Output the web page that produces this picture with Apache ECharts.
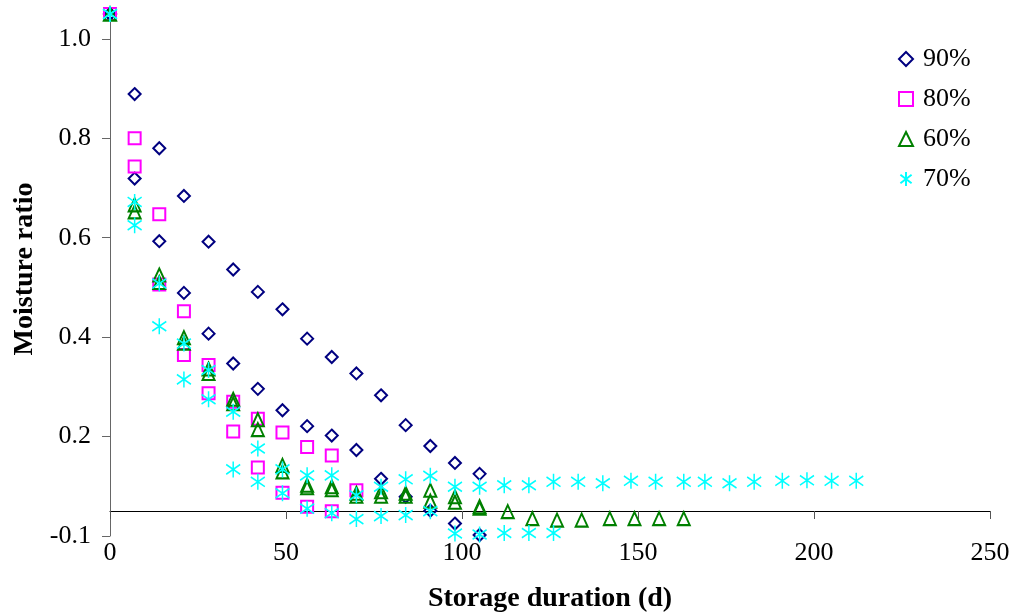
<!DOCTYPE html>
<html>
<head>
<meta charset="utf-8">
<script src="https://cdn.jsdelivr.net/npm/echarts@6/dist/echarts.min.js"></script>
<style>
  html, body { margin: 0; padding: 0; background: #fff; }
  #chart { width: 1016px; height: 616px; }
</style>
</head>
<body>
<div id="chart"></div>
<script>
// Moisture ratio during storage at four relative humidities (two replicates each)
const days90 = [0, 7, 14, 21, 28, 35, 42, 49, 56, 63, 70, 77, 84, 91, 98, 105];
const mr90a  = [1.05, 0.889, 0.780, 0.684, 0.592, 0.536, 0.491, 0.456, 0.397, 0.360, 0.327, 0.283, 0.223, 0.181, 0.147, 0.125];
const mr90b  = [1.05, 0.719, 0.593, 0.489, 0.407, 0.347, 0.296, 0.253, 0.221, 0.202, 0.173, 0.115, 0.079, 0.051, 0.025, 0.002];

const days80 = [0, 7, 14, 21, 28, 35, 42, 49, 56, 63, 70];
const mr80a  = [1.05, 0.800, 0.647, 0.452, 0.344, 0.270, 0.236, 0.208, 0.179, 0.162, 0.092];
const mr80b  = [1.05, 0.743, 0.506, 0.364, 0.287, 0.210, 0.138, 0.087, 0.059, 0.050, null];

const days60 = [0, 7, 14, 21, 28, 35, 42, 49, 56, 63, 70, 77, 84, 91, 98, 105];
const mr60a  = [1.05, 0.666, 0.525, 0.399, 0.336, 0.275, 0.234, 0.142, 0.102, 0.099, 0.086, 0.089, 0.086, 0.092, 0.079, 0.059];
const mr60b  = [1.05, 0.652, 0.510, 0.388, 0.327, 0.266, 0.214, 0.129, 0.097, 0.093, 0.080, 0.080, 0.080, 0.070, 0.068, 0.056];
const days60tail = [113, 120, 127, 134, 142, 149, 156, 163];
const mr60tail   = [0.049, 0.035, 0.032, 0.032, 0.035, 0.035, 0.035, 0.035];

const days70 = [0, 7, 14, 21, 28, 35, 42, 49, 56, 63, 70, 77, 84, 91, 98, 105, 112, 119, 126];
const mr70a  = [1.05, 0.672, 0.508, 0.387, 0.334, 0.250, 0.176, 0.134, 0.122, 0.122, 0.082, 0.099, 0.114, 0.121, 0.099, 0.099, 0.102, 0.102, 0.109];
const mr70b  = [1.05, 0.625, 0.422, 0.315, 0.275, 0.134, 0.109, 0.086, 0.055, 0.046, 0.034, 0.040, 0.042, 0.050, 0.005, 0.003, 0.006, 0.006, 0.006];
const days70tail = [133, 140, 148, 155, 163, 169, 176, 183, 191, 198, 205, 212];
const mr70tail   = [0.109, 0.106, 0.111, 0.109, 0.109, 0.109, 0.106, 0.109, 0.111, 0.112, 0.111, 0.111];

const seriesNames = ['90%', '80%', '60%', '70%'];
const yTickValues = [0, 0.2, 0.4, 0.6, 0.8, 1.0];
const xTickLabels = [0, 50, 100, 150, 200, 250];

function pairs(days, vals) {
  return days.map((d, i) => [d, vals[i]]).filter(p => p[1] !== null && p[1] !== undefined);
}

const FONT = "'Liberation Serif', 'Times New Roman', serif";
const STAR = 'path://M6,0L6,15M0,3L12,12M0,12L12,3';

function marker(name, data, symbol, size, color, width) {
  return {
    name: name,
    type: 'scatter',
    data: data,
    symbol: symbol,
    symbolSize: size,
    clip: false,
    itemStyle: { color: 'rgba(0,0,0,0)', borderColor: color, borderWidth: width, opacity: 1 },
    emphasis: { disabled: true }
  };
}

const chart = echarts.init(document.getElementById('chart'), null, { renderer: 'canvas' });
chart.setOption({
  animation: false,
  backgroundColor: '#ffffff',
  grid: { left: 110, right: 26, top: 14, bottom: 80, containLabel: false, outerBoundsMode: 'none' },
  legend: {
    orient: 'vertical',
    left: 893,
    top: 41,
    itemWidth: 14,
    itemHeight: 14,
    itemGap: 14,
    data: seriesNames,
    textStyle: { fontFamily: FONT, fontSize: 26, color: '#000', lineHeight: 26, padding: [0, 0, 0, 5] }
  },
  xAxis: {
    type: 'value',
    min: 0,
    max: 250,
    interval: 50,
    position: 'bottom',
    offset: -25,
    axisLine: { show: true, onZero: false, lineStyle: { color: '#000', width: 1 } },
    axisTick: { show: true, length: 8, lineStyle: { color: '#555' } },
    axisLabel: {
      margin: 29, fontFamily: FONT, fontSize: 26, color: '#000',
      customValues: xTickLabels
    },
    splitLine: { show: false },
    name: 'Storage duration (d)',
    nameLocation: 'middle',
    nameGap: 74,
    nameTextStyle: { fontFamily: FONT, fontSize: 28, fontWeight: 'bold', color: '#000' }
  },
  yAxis: {
    type: 'value',
    min: 0,
    max: 1.05,
    interval: 0.2,
    axisLine: { show: true, onZero: false, lineStyle: { color: '#666', width: 1 } },
    axisTick: { show: true, length: 8, customValues: yTickValues, lineStyle: { color: '#666' } },
    axisLabel: {
      margin: 19, fontFamily: FONT, fontSize: 26, color: '#000',
      customValues: yTickValues,
      formatter: v => (v === 0 ? '-0.1' : v.toFixed(1))
    },
    splitLine: { show: false },
    name: 'Moisture ratio',
    nameLocation: 'middle',
    nameRotate: 90,
    nameGap: 60,
    nameTextStyle: { fontFamily: FONT, fontSize: 28, fontWeight: 'bold', color: '#000', padding: [0, 0, 0, 12] }
  },
  series: [
    marker('90%', pairs(days90, mr90a).concat(pairs(days90, mr90b)), 'diamond', 12, '#000080', 2),
    marker('80%', pairs(days80, mr80a).concat(pairs(days80, mr80b)), 'rect', 12, '#FF00FF', 2),
    marker('60%', pairs(days60, mr60a).concat(pairs(days60, mr60b), pairs(days60tail, mr60tail)), 'triangle', [12, 13], '#008000', 2),
    marker('70%', pairs(days70, mr70a).concat(pairs(days70, mr70b), pairs(days70tail, mr70tail)), STAR, [14, 16], '#00FFFF', 1.6)
  ]
});
</script>
</body>
</html>
